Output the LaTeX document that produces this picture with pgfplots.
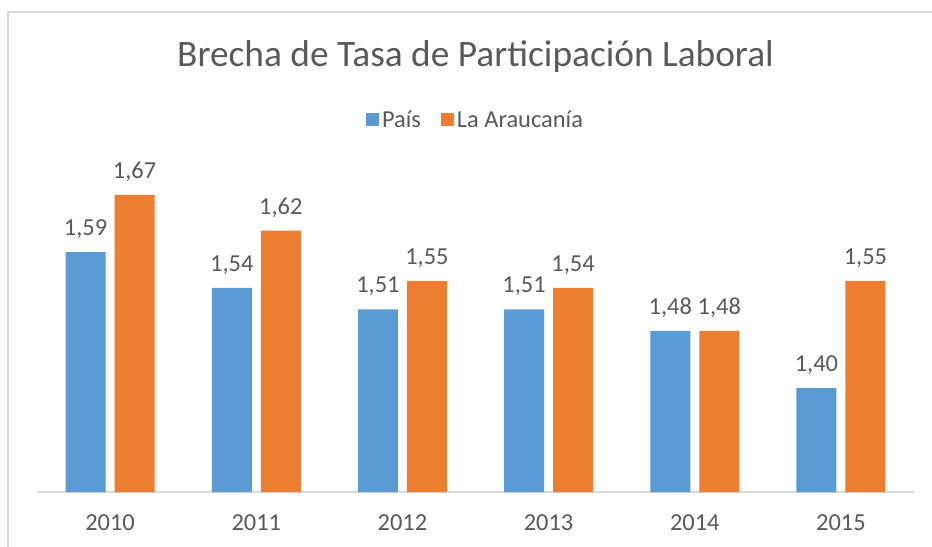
\documentclass[border=0pt]{standalone}
\usepackage{pgfplots}
\pgfplotsset{compat=1.18}
\usepackage{fontspec}
\setmainfont{Carlito}

\definecolor{pais}{HTML}{5B9BD5}
\definecolor{arauc}{HTML}{ED7D31}
\definecolor{txtgray}{HTML}{595959}
\definecolor{linegray}{HTML}{D9D9D9}

\begin{document}
\begin{tikzpicture}
\path[use as bounding box] (0bp,0bp) rectangle (932bp,547bp);
\draw[linegray, line width=1.2bp] (8bp,-20bp) -- (8bp,535bp) -- (960bp,535bp);

\begin{axis}[
    at={(37bp,55bp)}, anchor=south west,
    scale only axis,
    width=877bp, height=318.6bp,
    ybar=9bp, bar width=40bp,
    xmin=-0.5, xmax=5.5,
    ymin=1.255, ymax=1.70,
    enlarge x limits=false,
    clip=false,
    axis x line*=bottom,
    axis y line=none,
    x axis line style={draw=linegray, line width=1.2bp, -},
    xtick={0,1,2,3,4,5},
    xticklabels={2010,2011,2012,2013,2014,2015},
    xtick style={draw=none},
    ytick=\empty,
    xticklabel style={font=\fontsize{24.5}{29}\selectfont, text=txtgray, yshift=-15bp},
    title={Brecha de Tasa de Participación Laboral},
    title style={font=\fontsize{37.5}{44}\selectfont, text=txtgray, at={(0.5,1.347)}, anchor=center},
    legend style={draw=none, at={(0.5,1.168)}, anchor=center,
        font=\fontsize{24.5}{29}\selectfont, text=txtgray,
        legend columns=2, /tikz/every even column/.append style={column sep=18bp}},
    legend image code/.code={\fill[#1] (0bp,-6.5bp) rectangle (13bp,6.5bp); \path (0bp,0bp) -- (14bp,0bp);},
    /pgf/number format/.cd, use comma, fixed, fixed zerofill, precision=2, assume math mode=true,
    /pgfplots/.cd,
    nodes near coords,
    every node near coord/.append style={font=\fontsize{24.5}{29}\selectfont, text=txtgray, yshift=10bp},
]
\addplot[fill=pais, draw=none] coordinates {(0,1.59) (1,1.54) (2,1.51) (3,1.51) (4,1.48) (5,1.40)};
\addplot[fill=arauc, draw=none] coordinates {(0,1.67) (1,1.62) (2,1.55) (3,1.54) (4,1.48) (5,1.55)};
\legend{País, La Araucanía}
\end{axis}
\end{tikzpicture}
\end{document}
